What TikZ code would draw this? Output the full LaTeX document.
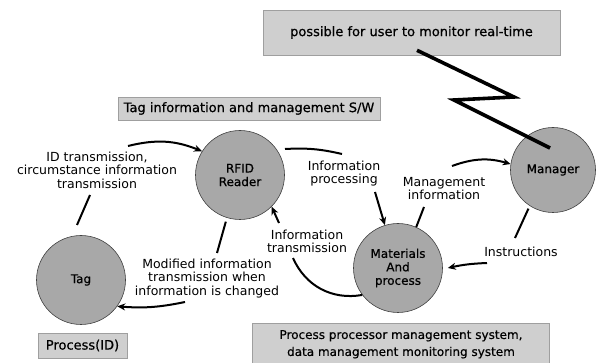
\documentclass[tikz,border=0pt]{standalone}
\usepackage{fontspec}
\setmainfont{DejaVu Sans}
\newfontfamily\boxfont[FakeBold=0.6]{DejaVu Sans}
\usetikzlibrary{arrows.meta,calc}
\begin{document}
\begin{tikzpicture}[x=1pt,y=-1pt,
  circ/.style={circle, draw=gray!50!black, line width=0.6pt, fill=gray!68, minimum size=89pt, inner sep=0pt, align=center, font=\boxfont\fontsize{12}{13.5}\selectfont},
  lbl/.style={align=center, inner sep=0pt, font=\fontsize{12.5}{13.5}\selectfont},
  box/.style={draw=gray!75, fill=gray!38, line width=0.6pt, inner sep=0pt, align=center, font=\boxfont\fontsize{13}{17}\selectfont},
  conn/.style={line width=2pt},
  arr/.style={conn, -{Stealth[length=8pt,width=7pt]}},
  bolt/.style={line width=3.6pt, line join=miter}
]
\useasboundingbox (0,0) rectangle (597,363);

% boxes
\node[box, minimum width=297pt, minimum height=45pt] (monbox) at (411.5,32.5) {possible for user to monitor real-time};
\node[box, minimum width=262pt, minimum height=23pt] (swbox) at (249,108.5) {Tag information and management S/W};
\node[box, minimum width=89pt, minimum height=25pt] (pidbox) at (82.5,345.5) {Process(ID)};
\node[box, minimum width=297pt, minimum height=42pt, anchor=north, font=\boxfont\fontsize{12}{17}\selectfont] (ppbox) at (401,323) {Process processor management system,\\data management monitoring system};

% circles
\node[circ] (rfid) at (240,175) {RFID\\Reader};
\node[circ] (tag) at (81,280) {Tag};
\node[circ] (mat) at (398,268) {Materials\\And\\process};
\node[circ, minimum size=85pt] (mgr) at (553,170) {Manager};

% labels
\node[lbl] (idlbl) at (97,170) {ID transmission,\\circumstance information\\transmission};
\node[lbl] (iproc) at (344,173.5) {Information\\processing};
\node[lbl] (mgmt) at (444,188.5) {Management\\information};
\node[lbl] (instr) at (521,252) {Instructions};
\node[lbl] (itrans) at (307,241.5) {Information\\transmission};
\node[lbl] (mod) at (207,278.5) {Modified information\\transmission when\\information is changed};

% connectors
\draw[arr] ($(idlbl)+(31,-24)$) to[bend left=18] (rfid.148);
\draw[conn] ($(idlbl)+(-7,25)$) -- ($(tag)+(-4,-55)$);

\draw[conn] ($(rfid)+(45,-26)$) to[bend left=8] ($(iproc)+(-2,-19.5)$);
\draw[arr] ($(iproc)+(31,18.5)$) -- (mat.107);

\draw[conn] ($(mgmt)+(-20,18.5)$) -- (mat.66);
\draw[arr] ($(mgmt)+(8,-22.5)$) to[bend left=18] (mgr.172);

\draw[conn, shorten <=3pt] (mgr.-123) -- ($(instr)+(-6,-14)$);
\draw[arr] ($(instr)+(-34,11)$) to[bend right=5] ($(mat.east)+(5,0)$);

\draw[arr] ($(itrans)+(-28,-18.5)$) -- (rfid.-45);
\draw[conn] ($(itrans)+(-14,16.5)$) to[bend right=38] (mat.-143);

\draw[conn, shorten <=4pt] (rfid.-107) -- ($(mod)+(10,-25.5)$);
\draw[arr] ($(mod)+(-22,23.5)$) to[bend left=8] (tag.-36);

% lightning
\coordinate (z1) at (514,97);
\coordinate (z2) at (454,100);
\draw[bolt] ($(monbox.south)+(5.5,-5)$) -- (z1) -- (z2) -- ($(mgr)+(-3,-22)$);
\end{tikzpicture}
\end{document}
